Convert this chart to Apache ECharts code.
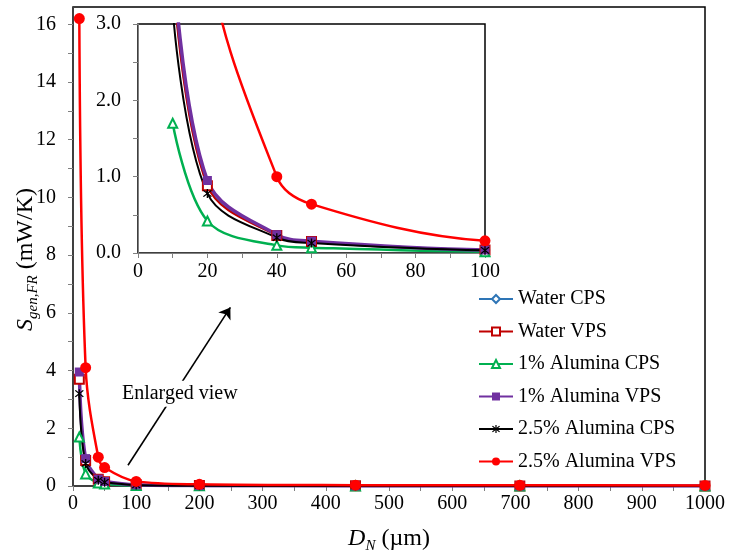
<!DOCTYPE html>
<html>
<head>
<meta charset="utf-8">
<script src="https://cdn.jsdelivr.net/npm/echarts@6/dist/echarts.min.js"></script>
<style>
  html, body { margin: 0; padding: 0; background: #fff; }
  #chart { width: 729px; height: 551px; }
</style>
</head>
<body>
<div id="chart"></div>
<script>
  // D_N (um)
  const diameters = [10, 20, 40, 50, 100, 200, 447, 707, 1000]

  // S_gen,FR (mW/K)
  const waterCPS = [3.75, 0.9, 0.23, 0.15, 0.04, 0.012, 0.004, 0.002, 0.002]
  const waterVPS = [3.7, 0.88, 0.23, 0.15, 0.04, 0.013, 0.005, 0.003, 0.002]
  const alumina1CPS = [1.7, 0.42, 0.1, 0.07, 0.016, 0.005, 0.002, 0.001, 0.001]
  const alumina1VPS = [3.95, 0.95, 0.24, 0.155, 0.04, 0.012, 0.004, 0.002, 0.002]
  const alumina25CPS = [3.2, 0.78, 0.2, 0.13, 0.035, 0.01, 0.003, 0.002, 0.001]
  const alumina25VPS = [16.2, 4.1, 1.0, 0.64, 0.16, 0.06, 0.03, 0.025, 0.02]

  const seriesNames = ['Water CPS', 'Water VPS', '1% Alumina CPS', '1% Alumina VPS', '2.5% Alumina CPS', '2.5% Alumina VPS']

  const font = 'Liberation Serif'
  const asterisk = 'path://M-1.2,-10L1.2,-10L1.2,10L-1.2,10Z' +
    'M-7.92,-6.22L-6.22,-7.92L7.92,6.22L6.22,7.92Z' +
    'M-6.22,7.92L-7.92,6.22L6.22,-7.92L7.92,-6.22Z'

  const styles = [
    {data: waterCPS, color: '#2e75b6', symbol: 'emptyDiamond', size: 8, width: 2},
    {data: waterVPS, color: '#c00000', symbol: 'emptyRect', size: 9, width: 2},
    {data: alumina1CPS, color: '#00b050', symbol: 'emptyTriangle', size: 9, width: 2.5},
    {data: alumina1VPS, color: '#7030a0', symbol: 'rect', size: 9, width: 3.5},
    {data: alumina25CPS, color: '#000000', symbol: asterisk, size: 9, width: 2},
    {data: alumina25VPS, color: '#ff0000', symbol: 'circle', size: 11, width: 2.5}
  ]

  function pairs(values) {
    return diameters.map((d, i) => [d, values[i]])
  }

  const series = []
  styles.forEach((s, i) => {
    [0, 1].forEach(idx => {
      const item = {
        name: seriesNames[i],
        type: 'line',
        xAxisIndex: idx,
        yAxisIndex: idx,
        data: pairs(s.data),
        smooth: 0.35,
        symbol: s.symbol,
        symbolSize: s.size,
        clip: true,
        lineStyle: {color: s.color, width: s.width},
        itemStyle: {color: s.color, borderWidth: 1.5},
        animation: false
      }
      // arrow + "Enlarged view" note, drawn in main-plot coords
      if (idx === 0 && i === styles.length - 1) {
        item.markLine = {
          silent: true,
          symbol: ['none', 'arrow'],
          symbolSize: 11,
          label: {show: false},
          lineStyle: {color: '#000', width: 1.6, type: 'solid'},
          data: [[{coord: [87, 0.72]}, {coord: [249, 6.19]}]]
        }
        item.markPoint = {
          z: 10,
          silent: true,
          symbol: 'rect',
          symbolSize: 1,
          itemStyle: {color: 'rgba(0,0,0,0)'},
          label: {
            show: true,
            position: 'inside',
            formatter: 'Enlarged view',
            color: '#000',
            fontFamily: font,
            fontSize: 20,
            backgroundColor: '#fff',
            padding: [3, 2]
          },
          data: [{coord: [169, 3.2]}]
        }
      }
      series.push(item)
    })
  })

  const richTitle = {
    i: {fontStyle: 'italic', fontSize: 24, fontFamily: font, lineHeight: 30},
    sub: {fontStyle: 'italic', fontSize: 15, fontFamily: font, verticalAlign: 'bottom', lineHeight: 15}
  }

  const chart = echarts.init(document.getElementById('chart'))
  chart.setOption({
    backgroundColor: '#fff',
    animation: false,
    textStyle: {fontFamily: font},
    legend: {
      orient: 'vertical',
      left: 478,
      top: 289,
      padding: 0,
      itemWidth: 34,
      itemHeight: 10,
      itemGap: 12.5,
      data: seriesNames,
      textStyle: {fontFamily: font, fontSize: 20, color: '#000'}
    },
    grid: [
      {
        left: 73, top: 7, right: 24, bottom: 65,
        outerBoundsMode: 'none',
        show: true, borderColor: '#000', borderWidth: 1.5
      },
      {
        left: 138, top: 24, right: 244, bottom: 298,
        outerBoundsMode: 'none',
        show: true, borderColor: '#000', borderWidth: 1.5, backgroundColor: '#fff'
      }
    ],
    xAxis: [
      {
        gridIndex: 0,
        type: 'value',
        min: 0,
        max: 1000,
        interval: 50,
        name: '{i|D}{sub|N} (µm)',
        nameLocation: 'middle',
        nameGap: 38,
        nameMoveOverlap: false,
        nameTextStyle: {color: '#000', fontFamily: font, fontSize: 24, rich: richTitle},
        splitLine: {show: false},
        axisLine: {lineStyle: {color: '#404040', width: 1}},
        axisTick: {length: 5, lineStyle: {color: '#808080'}},
        axisLabel: {
          margin: 8,
          color: '#000',
          fontSize: 20,
          fontFamily: font,
          formatter: v => (v % 100 === 0 ? String(v) : '')
        }
      },
      {
        gridIndex: 1,
        type: 'value',
        min: 0,
        max: 100,
        interval: 10,
        splitLine: {show: false},
        axisLine: {lineStyle: {color: '#808080', width: 1}},
        axisTick: {length: 5, lineStyle: {color: '#808080'}},
        axisLabel: {
          margin: 9,
          color: '#000',
          fontSize: 20,
          fontFamily: font,
          formatter: v => (v % 20 === 0 ? String(v) : '')
        }
      }
    ],
    yAxis: [
      {
        gridIndex: 0,
        type: 'value',
        min: 0,
        max: 16.6,
        interval: 1,
        name: '{i|S}{sub|gen,FR} (mW/K)',
        nameLocation: 'middle',
        nameRotate: 90,
        nameGap: 32,
        nameMoveOverlap: false,
        nameTextStyle: {
          color: '#000', fontFamily: font, fontSize: 24, rich: richTitle,
          padding: [0, 26, 0, 0]
        },
        splitLine: {show: false},
        axisLine: {lineStyle: {color: '#404040', width: 1}},
        axisTick: {length: 5, lineStyle: {color: '#808080'}},
        axisLabel: {
          margin: 17,
          color: '#000',
          fontSize: 20,
          fontFamily: font,
          showMaxLabel: false,
          formatter: v => (v % 2 === 0 ? String(v) : '')
        }
      },
      {
        gridIndex: 1,
        type: 'value',
        min: 0,
        max: 3,
        interval: 0.5,
        splitLine: {show: false},
        axisLine: {lineStyle: {color: '#808080', width: 1}},
        axisTick: {length: 5, lineStyle: {color: '#808080'}},
        axisLabel: {
          margin: 17,
          color: '#000',
          fontSize: 20,
          fontFamily: font,
          formatter: v => (v % 1 === 0 ? v.toFixed(1) : '')
        }
      }
    ],
    series: series
  })
</script>
</body>
</html>
